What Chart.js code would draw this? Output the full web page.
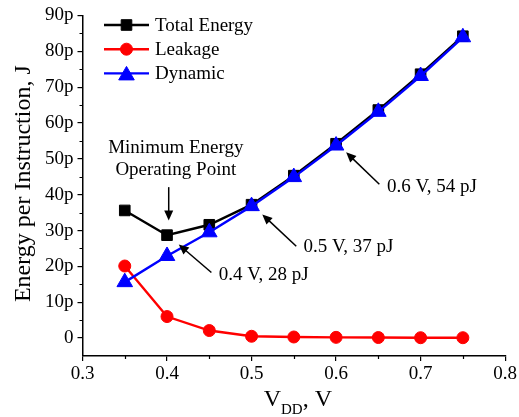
<!DOCTYPE html>
<html>
<head>
<meta charset="utf-8">
<script src="https://cdn.jsdelivr.net/npm/chart.js@4.4.0/dist/chart.umd.min.js"></script>
<style>
  html, body { margin: 0; padding: 0; background: #fff; }
  #wrap { width: 519px; height: 417px; }
</style>
</head>
<body>
<div id="wrap"><canvas id="chart" width="519" height="417"></canvas></div>
<script>
// supply voltage (V) and energy per instruction (pJ)
const voltages = [0.35, 0.4, 0.45, 0.5, 0.55, 0.6, 0.65, 0.7, 0.75];
const totalEnergy = [35.6, 28.7, 31.6, 37.2, 45.3, 54.2, 63.6, 73.6, 84.2];
const leakage = [20.1, 6.0, 2.1, 0.5, 0.3, 0.2, 0.15, 0.1, 0.1];
const dynamic = [15.6, 22.9, 29.5, 36.8, 44.9, 53.7, 63.1, 73.1, 83.9];

const xTicks = [0.3, 0.4, 0.5, 0.6, 0.7, 0.8];
const yTicks = [0, 10, 20, 30, 40, 50, 60, 70, 80, 90];

// callouts, anchored in data units (x in V, y in pJ)
const callouts = [
  { text: '0.4 V, 28 pJ', at: [0.4612, 17.6], from: [0.4525, 18.3], to: [0.4139, 26.1] },
  { text: '0.5 V, 37 pJ', at: [0.5615, 25.3], from: [0.5529, 25.6], to: [0.5127, 34.5] },
  { text: '0.6 V, 54 pJ', at: [0.6603, 42.1], from: [0.6512, 42.9], to: [0.6119, 51.8] }
];
const minPointLabel = ['Minimum Energy', 'Operating Point'];

const SERIF = '"Liberation Serif", "Times New Roman", serif';

const series = [
  { label: 'Total Energy', data: totalEnergy, color: '#000000', style: 'rect', radius: 7.5, order: 2 },
  { label: 'Leakage', data: leakage, color: '#ff0000', style: 'circle', radius: 6, order: 1 },
  { label: 'Dynamic', data: dynamic, color: '#0000ff', style: 'triangle', radius: 9, order: 0 }
];

function arrow(ctx, x1, y1, x2, y2) {
  const ang = Math.atan2(y2 - y1, x2 - x1);
  const head = 10, half = 4.5;
  ctx.beginPath();
  ctx.moveTo(x1, y1);
  ctx.lineTo(x2 - Math.cos(ang) * head * 0.8, y2 - Math.sin(ang) * head * 0.8);
  ctx.stroke();
  ctx.beginPath();
  ctx.moveTo(x2, y2);
  ctx.lineTo(x2 - Math.cos(ang) * head + Math.sin(ang) * half, y2 - Math.sin(ang) * head - Math.cos(ang) * half);
  ctx.lineTo(x2 - Math.cos(ang) * head - Math.sin(ang) * half, y2 - Math.sin(ang) * head + Math.cos(ang) * half);
  ctx.closePath();
  ctx.fill();
}

const decorations = {
  id: 'decorations',
  afterDraw(chart) {
    const { ctx, chartArea } = chart;
    const xs = chart.scales.x, ys = chart.scales.y;
    ctx.save();
    ctx.strokeStyle = '#000';
    ctx.fillStyle = '#000';
    ctx.lineWidth = 1.2;

    // minor ticks halfway between majors
    ctx.beginPath();
    for (let i = 0; i < yTicks.length - 1; i++) {
      const py = Math.round(ys.getPixelForValue((yTicks[i] + yTicks[i + 1]) / 2)) + 0.5;
      ctx.moveTo(chartArea.left, py);
      ctx.lineTo(chartArea.left - 3, py);
    }
    for (let i = 0; i < xTicks.length - 1; i++) {
      const px = Math.round(xs.getPixelForValue((xTicks[i] + xTicks[i + 1]) / 2)) + 0.5;
      ctx.moveTo(px, chartArea.bottom);
      ctx.lineTo(px, chartArea.bottom + 3);
    }
    ctx.stroke();

    // legend with line + marker samples
    ctx.font = '19px ' + SERIF;
    ctx.textBaseline = 'middle';
    ctx.textAlign = 'left';
    series.forEach((s, i) => {
      const y = 25 + i * 24.2;
      ctx.strokeStyle = s.color;
      ctx.fillStyle = s.color;
      ctx.lineWidth = 2.4;
      ctx.beginPath();
      ctx.moveTo(104, y);
      ctx.lineTo(149, y);
      ctx.stroke();
      ctx.lineWidth = 1;
      Chart.helpers.drawPoint(ctx, { pointStyle: s.style, radius: s.radius, rotation: 0, borderWidth: 1 }, 126.5, y + (s.style === 'triangle' ? 2 : 0));
      ctx.fillStyle = '#000';
      ctx.fillText(s.label, 155, y + 1);
    });

    // annotations
    ctx.strokeStyle = '#000';
    ctx.fillStyle = '#000';
    ctx.lineWidth = 1.5;
    ctx.font = '19px ' + SERIF;
    ctx.textAlign = 'center';
    const mx = xs.getPixelForValue(0.4104);
    ctx.fillText(minPointLabel[0], mx, ys.getPixelForValue(52.9));
    ctx.fillText(minPointLabel[1], mx, ys.getPixelForValue(46.8));
    const ax = xs.getPixelForValue(0.402);
    arrow(ctx, ax, ys.getPixelForValue(42.1), ax, ys.getPixelForValue(32.8));

    ctx.textAlign = 'left';
    callouts.forEach(c => {
      arrow(ctx, xs.getPixelForValue(c.from[0]), ys.getPixelForValue(c.from[1]),
        xs.getPixelForValue(c.to[0]), ys.getPixelForValue(c.to[1]));
      ctx.fillText(c.text, xs.getPixelForValue(c.at[0]), ys.getPixelForValue(c.at[1]));
    });

    // axis titles
    ctx.save();
    ctx.translate(24, (chartArea.top + chartArea.bottom) / 2 - 2);
    ctx.rotate(-Math.PI / 2);
    ctx.textAlign = 'center';
    ctx.font = '24px ' + SERIF;
    ctx.fillText('Energy per Instruction, J', 0, 0);
    ctx.restore();

    ctx.textAlign = 'left';
    ctx.textBaseline = 'alphabetic';
    ctx.font = '24px ' + SERIF;
    const vW = ctx.measureText('V').width;
    ctx.font = '15px ' + SERIF;
    const ddW = ctx.measureText('DD').width;
    ctx.font = '24px ' + SERIF;
    const restW = ctx.measureText(', V').width;
    let tx = (chartArea.left + chartArea.right) / 2 + 4 - (vW + ddW + restW) / 2;
    ctx.fillText('V', tx, 406);
    tx += vW;
    ctx.font = '15px ' + SERIF;
    ctx.fillText('DD', tx, 414);
    tx += ddW;
    ctx.font = '24px ' + SERIF;
    ctx.fillText(', V', tx, 406);
    ctx.restore();
  }
};

new Chart(document.getElementById('chart'), {
  type: 'line',
  data: {
    datasets: series.map(s => ({
      label: s.label,
      data: voltages.map((v, i) => ({ x: v, y: s.data[i] })),
      borderColor: s.color,
      backgroundColor: s.color,
      borderWidth: 2.4,
      pointStyle: s.style,
      pointRadius: s.radius,
      pointHoverRadius: s.radius,
      pointBorderWidth: 1,
      tension: 0,
      order: s.order
    }))
  },
  options: {
    responsive: false,
    animation: false,
    devicePixelRatio: 1,
    layout: { padding: { top: 11, right: 13, left: 0, bottom: 0 } },
    plugins: { legend: { display: false }, tooltip: { enabled: false } },
    scales: {
      x: {
        type: 'linear',
        min: 0.3,
        max: 0.8,
        afterBuildTicks: s => { s.ticks = xTicks.map(v => ({ value: v })); },
        afterFit: s => { s.height = 61; },
        grid: { drawOnChartArea: false, tickLength: 5, color: '#000', lineWidth: 1.2 },
        border: { display: true, color: '#000', width: 1.5 },
        ticks: {
          color: '#000',
          font: { family: SERIF, size: 19 },
          padding: 2,
          maxRotation: 0,
          callback: v => v.toFixed(1)
        }
      },
      y: {
        type: 'linear',
        min: -5,
        max: 90,
        afterBuildTicks: s => { s.ticks = yTicks.map(v => ({ value: v })); },
        afterFit: s => { s.width = 82.5; },
        grid: { drawOnChartArea: false, tickLength: 5, color: '#000', lineWidth: 1.2 },
        border: { display: true, color: '#000', width: 1.5 },
        ticks: {
          color: '#000',
          font: { family: SERIF, size: 19 },
          padding: 4,
          callback: v => (v === 0 ? '0' : v + 'p')
        }
      }
    }
  },
  plugins: [decorations]
});
</script>
</body>
</html>
